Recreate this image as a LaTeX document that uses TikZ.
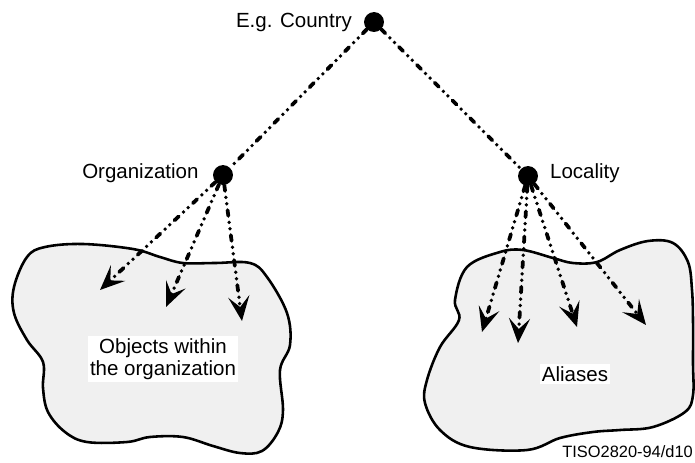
\documentclass[tikz,border=0pt]{standalone}
\usepackage{fontspec}
\setmainfont{Liberation Sans}
\usetikzlibrary{arrows.meta}
\usetikzlibrary{positioning}
\tikzset{lbl/.style={font=\fontsize{17.5}{19}\selectfont, inner sep=0pt}}
\tikzset{sml/.style={font=\fontsize{14}{16}\selectfont, inner sep=0pt}}
\tikzset{dot/.style={circle, fill=black, inner sep=0pt, minimum size=17pt}}
\tikzset{flow/.style={line width=3.2pt, line cap=round,
    dash pattern=on 5pt off 5.5pt on 0pt off 5.5pt on 0pt off 5.5pt,
    -{Stealth[length=21pt, width=18pt, inset=9pt]}}}
\tikzset{link/.style={line width=3.2pt, line cap=round,
    dash pattern=on 5pt off 5.5pt on 0pt off 5.5pt on 0pt off 5.5pt}}
\tikzset{cloud/.style={draw=black, fill=black!6, line width=2.2pt}}
\tikzset{txtbox/.style={font=\fontsize{17.5}{19}\selectfont, fill=white, align=center, inner sep=2pt}}

\begin{document}
\begin{tikzpicture}[x=0.03cm, y=-0.03cm]
  \useasboundingbox (0,0) rectangle (695,462);
  % the two areas
  \draw [cloud] plot [smooth cycle, tension=0.6] coordinates {
    (27,257) (45,247) (83,244) (133,249) (160,257) (183,263) (215,263) (250,263)
    (267,277) (287,313) (290,345) (280,370) (283,410) (278,432) (262,451)
    (240,453) (213,446) (183,437) (150,437) (127,442) (87,442) (65,432)
    (48,412) (43,388) (43,362) (27,340) (14,313) (14,287)};
  \draw [cloud] plot [smooth cycle, tension=0.6] coordinates {
    (467,267) (500,252) (523,250) (553,258) (573,263) (597,262) (620,250)
    (648,241) (673,243) (688,262) (692,290) (693,320) (693,363) (693,395)
    (685,412) (653,427) (620,430) (593,432) (560,438) (527,450) (470,447)
    (440,430) (425,403) (427,380) (440,347) (459,320) (455,300)};
  \node [txtbox] (objects) at (163,359) {Objects within\\the organization};
  \node [txtbox] (aliases) at (575,374) {Aliases};
  \node [sml, anchor=east] (ref) at (693,452) {TISO2820-94/d10};
  % the tree
  \node [dot] (country) at (374,22) {};
  \node [dot] (org) at (223,175) {};
  \node [dot] (loc) at (528,176) {};
  \node [lbl, left=10pt of country] {E.g. Country};
  \node [lbl, left=12pt of org, yshift=1.5pt] {Organization};
  \node [lbl, right=10pt of loc, yshift=2.5pt] {Locality};
  \draw [link] (country) -- (org);
  \draw [link] (country) -- (loc);
  % arrow ends
  \coordinate (o1) at (100,290);
  \coordinate (o2) at (166,307);
  \coordinate (o3) at (242,321);
  \coordinate (a1) at (482,332);
  \coordinate (a2) at (518,343);
  \coordinate (a3) at (577,327);
  \coordinate (a4) at (646,325);
  \draw [flow] (org) -- (o1);
  \draw [flow] (org) -- (o2);
  \draw [flow] (org) -- (o3);
  \draw [flow] (loc) -- (a1);
  \draw [flow] (loc) -- (a2);
  \draw [flow] (loc) -- (a3);
  \draw [flow] (loc) -- (a4);
\end{tikzpicture}
\end{document}
